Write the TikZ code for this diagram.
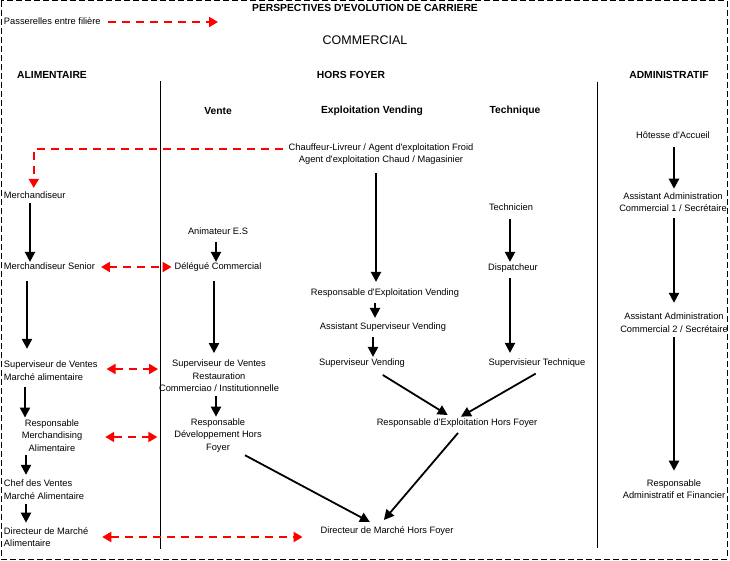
\documentclass[tikz,border=0pt]{standalone}
\usepackage{fontspec}
\setmainfont{Liberation Sans}[Ligatures=TeXOff]
\usetikzlibrary{arrows.meta,calc}
\begin{document}
\begin{tikzpicture}[x=1pt,y=-1pt,
  lbl/.style={font=\fontsize{9.3}{12.5}\selectfont, inner sep=0pt, outer sep=0pt, text height=6.6pt, text depth=1.6pt},
  mlbl/.style={font=\fontsize{9.3}{12.5}\selectfont, inner sep=0pt, outer sep=0pt, align=center},
  mlbll/.style={mlbl, align=left, anchor=west},
  hdr/.style={font=\fontsize{10.3}{12}\selectfont\bfseries, inner sep=0pt},
  border/.style={line width=1pt, dash pattern=on 6pt off 3pt},
  sep/.style={line width=1pt},
  arr/.style={line width=2.2pt, -{Triangle[length=10pt,width=10pt]}},
  diag/.style={line width=1.8pt, -{Triangle[length=10pt,width=10pt]}},
  redarr/.style={red, line width=2pt, dash pattern=on 8pt off 6pt, -{Triangle[length=9pt,width=10pt]}},
  redboth/.style={red, line width=2pt, dash pattern=on 8pt off 6pt, {Triangle[length=9pt,width=10pt]}-{Triangle[length=9pt,width=10pt]}}
]
\useasboundingbox (0,0) rectangle (730,561);
\draw[border] (1,1) rectangle (727,559);

% headers
\node[hdr] (title) at (365,8) {PERSPECTIVES D'EVOLUTION DE CARRIERE};
\node[lbl, anchor=west] (legend) at (4,22) {Passerelles entre filière};
\coordinate (legendend) at (218,22);
\draw[redarr, shorten <=7pt] (legend.east) -- (legendend);
\node[font=\fontsize{12.5}{14}\selectfont, inner sep=0pt] (commercial) at (365,40) {COMMERCIAL};
\node[hdr] (alim) at (52,75) {ALIMENTAIRE};
\node[hdr] (horsfoyer) at (351,75) {HORS FOYER};
\node[hdr] (admin) at (669,75) {ADMINISTRATIF};
\node[hdr] (vente) at (218,111) {Vente};
\node[hdr] (exploit) at (372,111) {Exploitation Vending};
\node[hdr] (technique) at (515,111) {Technique};

% separators
\coordinate (sepAtop) at (160,81); \coordinate (sepAbot) at (160,549);
\coordinate (sepBtop) at (597,82); \coordinate (sepBbot) at (597,548);
\draw[sep] (sepAtop) -- (sepAbot);
\draw[sep] (sepBtop) -- (sepBbot);

% nodes
\node[mlbl] (chauffeur) at (381,154) {Chauffeur-Livreur / Agent d'exploitation Froid\\Agent d'exploitation Chaud / Magasinier};
\node[lbl, anchor=west] (merch) at (4,196) {Merchandiseur};
\node[lbl] (tech) at (511,208) {Technicien};
\node[lbl] (anim) at (218,232) {Animateur E.S};
\node[lbl, anchor=west] (msr) at (4,267) {Merchandiseur Senior};
\node[lbl] (deleg) at (218,267) {Délégué Commercial};
\node[lbl] (disp) at (513,268) {Dispatcheur};
\node[lbl] (respvend) at (385,293) {Responsable d'Exploitation Vending};
\node[lbl] (asstsup) at (383,327) {Assistant Superviseur Vending};
\node[lbl] (supvend) at (362,363) {Superviseur Vending};
\node[lbl] (suptech) at (537,363) {Supervisieur Technique};
\node[mlbll] (supalim) at (4,370.5) {Superviseur de Ventes\\Marché alimentaire};
\node[mlbl] (supresto) at (219,376) {Superviseur de Ventes\\Restauration\\Commerciao / Institutionnelle};
\node[mlbl] (respmerch) at (52,435.5) {Responsable\\Merchandising\\Alimentaire};
\node[mlbl] (respdev) at (218,435.5) {Responsable\\Développement Hors\\Foyer};
\node[lbl] (resphf) at (457,423) {Responsable d'Exploitation Hors Foyer};
\node[mlbll] (chef) at (4,489.5) {Chef des Ventes\\Marché Alimentaire};
\node[mlbll] (diralim) at (4,537) {Directeur de Marché\\Alimentaire};
\node[lbl] (dirhf) at (387,531) {Directeur de Marché Hors Foyer};
\node[lbl] (hotesse) at (673,136) {Hôtesse d'Accueil};
\node[mlbl] (assadm1) at (673,202) {Assistant Administration\\Commercial 1 / Secrétaire};
\node[mlbl] (assadm2) at (674,322.5) {Assistant Administration\\Commercial 2 / Secrétaire};
\node[mlbl] (respadm) at (674,489) {Responsable\\Administratif et Financier};

% vertical arrows
\draw[arr, shorten <=3pt, shorten >=1pt] ([xshift=26pt]merch.south west) -- ([xshift=26pt]merch.south west |- msr.north);
\draw[arr, shorten <=6pt, shorten >=1pt] ([xshift=-2pt]anim.south) -- ([xshift=-2pt]anim.south |- deleg.north);
\draw[arr, shorten <=10pt, shorten >=7pt] ([xshift=-4pt]deleg.south) -- ([xshift=-4pt]deleg.south |- supresto.north);
\draw[arr, shorten <=10pt, shorten >=12pt] ([xshift=23pt]msr.south west) -- ([xshift=23pt]msr.south west |- supalim.north);
\draw[arr, shorten <=6.5pt, shorten >=2pt] ([xshift=21pt]supalim.south west) -- ([xshift=21pt]supalim.south west |- respmerch.north);
\draw[arr, shorten <=4.5pt, shorten >=2pt] ([xshift=-3pt]supresto.south) -- ([xshift=-3pt]supresto.south |- respdev.north);
\draw[arr, shorten <=4pt, shorten >=5pt] ([xshift=-26pt]respmerch.south) -- ([xshift=-26pt]respmerch.south |- chef.north);
\draw[arr, shorten <=5pt, shorten >=4.6pt] ([xshift=22pt]chef.south west) -- ([xshift=22pt]chef.south west |- diralim.north);
\draw[arr, shorten <=8.6pt, shorten >=7pt] ([xshift=-5pt]chauffeur.south) -- ([xshift=-5pt]chauffeur.south |- respvend.north);
\draw[arr, shorten <=6pt, shorten >=5pt] ([xshift=-10pt]respvend.south) -- ([xshift=-10pt]respvend.south |- asstsup.north);
\draw[arr, shorten <=6pt, shorten >=2pt] ([xshift=-10pt]asstsup.south) -- ([xshift=-10pt]asstsup.south |- supvend.north);
\draw[arr, shorten <=7pt, shorten >=2pt] ([xshift=-1pt]tech.south) -- ([xshift=-1pt]tech.south |- disp.north);
\draw[arr, shorten <=6pt, shorten >=6pt] ([xshift=-3pt]disp.south) -- ([xshift=-3pt]disp.south |- suptech.north);
\draw[arr, shorten <=7pt, shorten >=3.6pt] ([xshift=1pt]hotesse.south) -- ([xshift=1pt]hotesse.south |- assadm1.north);
\draw[arr, shorten <=6.6pt, shorten >=10pt] ([xshift=1pt]assadm1.south) -- ([xshift=1pt]assadm1.south |- assadm2.north);
\draw[arr, shorten <=5pt, shorten >=8.6pt] (assadm2.south) -- (assadm2.south |- respadm.north);

% diagonal arrows
\draw[diag, shorten <=15pt, shorten >=7.4pt] ([xshift=8pt]supvend.south) -- ([xshift=-3pt]resphf.north);
\draw[diag, shorten <=13pt, shorten >=4.5pt] ([xshift=10pt]suptech.south) -- (resphf.north);
\draw[diag, shorten <=7.7pt, shorten >=9.1pt] ([xshift=6pt]resphf.south) -- ([xshift=-9pt]dirhf.north);
\draw[diag, shorten <=6.1pt, shorten >=10.3pt] ([xshift=21.6pt]respdev.south) -- ([xshift=-8pt]dirhf.north);

% red passerelles
\draw[redarr, shorten >=4pt] ($(chauffeur.north west)+(-6,5.5)$) -| ([xshift=-1pt]merch.north);
\draw[redboth, shorten <=6pt, shorten >=3pt] (msr.east) -- (deleg.west);
\draw[redboth, shorten <=9pt, shorten >=1pt] ([yshift=1.5pt]supalim.east) -- ([yshift=1.5pt]supalim.east -| supresto.west);
\draw[redboth, shorten <=23pt, shorten >=17pt] ([yshift=-1.5pt]respmerch.east) -- ([yshift=-1.5pt]respmerch.east -| respdev.west);
\draw[redboth, shorten <=14pt, shorten >=18pt] (diralim.east) -- (diralim.east -| dirhf.west);
\end{tikzpicture}
\end{document}
